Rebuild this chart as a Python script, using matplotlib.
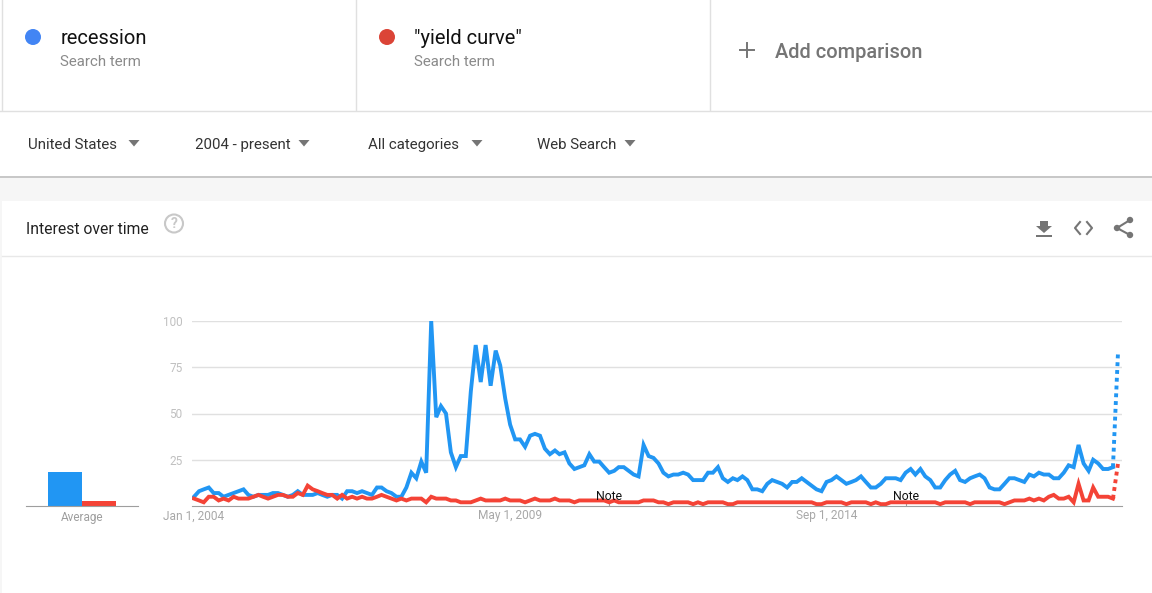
import matplotlib
matplotlib.use('Agg')
import matplotlib.pyplot as plt
import matplotlib.dates as mdates
from matplotlib.patches import Circle, Polygon, Rectangle
import pandas as pd

plt.rcParams['font.family'] = ['Roboto', 'DejaVu Sans']

W, H = 1152, 593

dates = pd.date_range('2004-01-01', periods=188, freq='MS')
recession = [
    5, 8, 9, 10, 7, 7, 5, 6, 7, 8,
    9, 6, 5, 6, 6, 6, 7, 7, 6, 5,
    6, 8, 6, 6, 6, 7, 6, 5, 6, 6,
    4, 8, 8, 7, 8, 7, 6, 10, 10, 8,
    7, 5, 5, 10, 18, 15, 24, 18, 100, 48,
    54, 50, 29, 21, 27, 27, 62, 87, 67, 87,
    65, 84, 76, 58, 44, 36, 36, 32, 38, 39,
    38, 31, 28, 30, 28, 29, 23, 20, 21, 22,
    28, 24, 24, 21, 18, 19, 21, 21, 19, 17,
    16, 33, 27, 26, 23, 18, 16, 17, 17, 18,
    17, 14, 14, 14, 18, 18, 21, 15, 13, 15,
    14, 16, 14, 9, 9, 8, 12, 14, 13, 12,
    10, 13, 13, 15, 13, 11, 9, 8, 13, 14,
    16, 14, 12, 13, 14, 16, 13, 10, 10, 12,
    15, 15, 15, 14, 18, 20, 17, 20, 16, 14,
    10, 10, 14, 17, 19, 14, 13, 15, 16, 17,
    15, 10, 9, 9, 12, 15, 15, 14, 13, 17,
    16, 18, 17, 17, 15, 15, 18, 22, 21, 33,
    23, 19, 25, 23, 20, 20, 21, 83,
]
yield_curve = [
    4, 3, 2, 5, 5, 3, 4, 3, 5, 4,
    4, 4, 5, 6, 5, 4, 5, 6, 6, 5,
    5, 7, 6, 11, 9, 8, 7, 6, 6, 4,
    6, 4, 5, 4, 5, 4, 4, 5, 6, 5,
    4, 3, 4, 3, 4, 4, 4, 2, 5, 4,
    4, 4, 3, 3, 2, 2, 2, 3, 4, 3,
    3, 3, 3, 4, 3, 3, 3, 2, 3, 4,
    3, 3, 3, 4, 3, 3, 3, 2, 3, 3,
    3, 3, 3, 3, 2, 3, 2, 2, 2, 2,
    2, 3, 3, 3, 2, 2, 1, 2, 2, 2,
    2, 1, 2, 1, 2, 2, 2, 2, 1, 1,
    2, 2, 2, 2, 2, 2, 2, 2, 2, 2,
    2, 2, 2, 2, 2, 2, 1, 1, 2, 2,
    2, 2, 1, 2, 2, 2, 2, 1, 2, 1,
    1, 2, 2, 2, 2, 2, 2, 2, 2, 2,
    2, 1, 2, 2, 2, 2, 2, 1, 2, 2,
    2, 2, 2, 2, 1, 2, 3, 3, 3, 4,
    3, 4, 3, 5, 6, 4, 4, 5, 2, 12,
    3, 3, 10, 5, 5, 5, 4, 23,
]
averages = [18.5, 2.7]
terms = ['recession', '"yield curve"']
filters = ['United States', '2004 - present', 'All categories', 'Web Search']
y_ticks = [25, 50, 75, 100]
x_ticks = ['2004-01-01', '2009-05-01', '2014-09-01']
x_tick_labels = ['Jan 1, 2004', 'May 1, 2009', 'Sep 1, 2014']
note_dates = ['2011-01-01', '2016-01-01']

BLUE = '#2196f3'
RED = '#f44336'


def px_axes(left, right, top, bottom):
    return fig.add_axes([left / W, 1 - bottom / H, (right - left) / W, (bottom - top) / H])


fig = plt.figure(figsize=(W / 100, H / 100), dpi=100, facecolor='white')

# page furniture, in pixel coordinates
ui = fig.add_axes([0, 0, 1, 1])
ui.set_xlim(0, W)
ui.set_ylim(H, 0)
ui.axis('off')

ui.add_patch(Rectangle((0, 178), W, 23, color='#f6f6f6', lw=0))
ui.add_patch(Rectangle((0, 176), W, 2, color='#c8c8c8', lw=0))
ui.add_patch(Rectangle((0, 201), 2, H - 201, color='#f6f6f6', lw=0))
ui.plot([0, W], [110.5, 110.5], color='#e0e0e0', lw=1)
ui.plot([2, W], [255.5, 255.5], color='#e8e8e8', lw=1)
for x in [1.5, 355.5, 709.5]:
    ui.plot([x, x], [0, 110], color='#e0e0e0', lw=1)

for x, term, color in zip([33, 387], terms, ['#4285f4', '#db4437']):
    ui.add_patch(Circle((x, 37), 8, color=color, lw=0))
    ui.text(x + 27.5, 38.5, term, fontsize=14.5, color='#111111', va='center')
    ui.text(x + 27.5, 62, 'Search term', fontsize=10.8, color='#8a8a8a', va='center')

ui.plot([740, 754], [50, 50], color='#757575', lw=1.4)
ui.plot([747, 747], [43, 57], color='#757575', lw=1.4)
ui.text(775, 53, 'Add comparison', fontsize=14.4, color='#757575', va='center', fontweight='medium')

for x, label, arrow in zip([28, 195, 368, 537], filters, [134, 304, 477, 630]):
    ui.text(x, 145, label, fontsize=10.8, color='#333333', va='center')
    ui.add_patch(Polygon([(arrow - 5.5, 140), (arrow + 5.5, 140), (arrow, 146.5)], color='#757575', lw=0))

ui.text(26, 229, 'Interest over time', fontsize=11.3, color='#222222', va='center')
ui.add_patch(Circle((174, 223.5), 9, fill=False, ec='#c8c8c8', lw=1.5))
ui.text(174, 223.5, '?', fontsize=10, color='#c8c8c8', ha='center', va='center', fontweight='bold')

# download, embed and share icons
ui.add_patch(Polygon([(1040, 221), (1048, 221), (1048, 226), (1052, 226), (1044, 233), (1036, 226), (1040, 226)],
                     color='#757575', lw=0))
ui.add_patch(Rectangle((1036, 235), 16, 2, color='#757575', lw=0))
ui.plot([1080, 1075, 1080], [222, 228, 234], color='#757575', lw=1.5)
ui.plot([1087, 1092, 1087], [222, 228, 234], color='#757575', lw=1.5)
ui.plot([1130, 1117, 1130], [220, 228, 235], color='#757575', lw=1.5)
for x, y in [(1130, 220), (1117, 228), (1130, 235)]:
    ui.add_patch(Circle((x, y), 3.2, color='#757575', lw=0))

# average bars
bars = px_axes(26, 138, 321, 506)
bars.patch.set_alpha(0)
bars.bar([0, 1], averages, width=1, color=[BLUE, RED])
bars.set_xlim(-1.15, 2.15)
bars.set_ylim(0, 100)
bars.set_yticks([])
bars.set_xticks([0.5], ['Average'], fontsize=8.5, color='#9e9e9e')
bars.tick_params(axis='x', length=0, pad=3.5)
for side in ['top', 'left', 'right']:
    bars.spines[side].set_visible(False)
bars.spines['bottom'].set_color('#9e9e9e')

# time series, with the last month dotted as it is only partial
ax = px_axes(192, 1122, 321, 506)
ax.patch.set_alpha(0)
first = mdates.date2num(dates[0])
last = mdates.date2num(dates[-1])
per_px = (last - first) / (1118 - 194)
ax.set_xlim(first - 2 * per_px, last + 4 * per_px)
ax.set_ylim(0, 100)

for values, color in zip([recession, yield_curve], [BLUE, RED]):
    ax.plot(dates[:187], values[:187], color=color, lw=2.8, solid_joinstyle='miter')
    ax.plot(dates[186:], values[186:], color=color, lw=2.8, linestyle=(0, (1, 1)))

ax.set_yticks(y_ticks)
ax.set_xticks(pd.to_datetime(x_ticks), x_tick_labels, fontsize=8.6, color='#a8a8a8')
ax.tick_params(axis='y', length=0, pad=7, labelsize=8.5, labelcolor='#c0c0c0')
ax.tick_params(axis='x', length=0, pad=2.5)
ax.grid(axis='y', color='#e0e0e0', lw=1)
ax.set_axisbelow(True)
for side in ['top', 'left', 'right']:
    ax.spines[side].set_visible(False)
ax.spines['bottom'].set_color('#9e9e9e')

for d in pd.to_datetime(note_dates):
    ax.plot([d, d], [0, 2], color='#9e9e9e', lw=0.8, zorder=1)
    ax.text(d, 5.2, 'Note', fontsize=8.8, color='#111111', ha='center', va='center', zorder=5)

fig.savefig('out.png', dpi=100)
